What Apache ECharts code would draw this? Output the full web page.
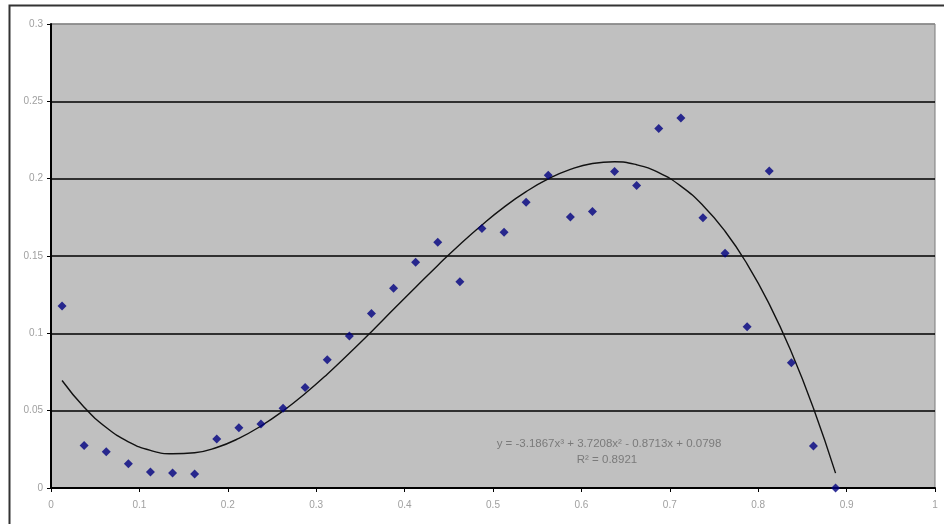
<!DOCTYPE html>
<html>
<head>
<meta charset="utf-8">
<script src="https://cdn.jsdelivr.net/npm/echarts@6/dist/echarts.min.js"></script>
<style>
html,body{margin:0;padding:0;background:#fff;}
#chart{width:944px;height:524px;}
</style>
</head>
<body>
<div id="chart"></div>
<script>
var xValues = [0.0125,0.0375,0.0625,0.0875,0.1125,0.1375,0.1625,0.1875,0.2125,0.2375,0.2625,0.2875,0.3125,0.3375,0.3625,0.3875,0.4125,0.4375,0.4625,0.4875,0.5125,0.5375,0.5625,0.5875,0.6125,0.6375,0.6625,0.6875,0.7125,0.7375,0.7625,0.7875,0.8125,0.8375,0.8625,0.8875];
var yValues = [0.1177,0.0274,0.0235,0.0157,0.0103,0.0097,0.0090,0.0317,0.0390,0.0414,0.0515,0.0649,0.0830,0.0983,0.1129,0.1291,0.1459,0.1589,0.1334,0.1677,0.1653,0.1847,0.2022,0.1752,0.1787,0.2047,0.1956,0.2325,0.2392,0.1748,0.1517,0.1043,0.2050,0.0810,0.0272,0.0000];
var trendValues = [0.0695,0.0522,0.0391,0.0299,0.0243,0.0221,0.0228,0.0262,0.0321,0.0401,0.0498,0.0611,0.0736,0.0871,0.1011,0.1155,0.1298,0.1439,0.1575,0.1701,0.1816,0.1916,0.1998,0.2060,0.2098,0.2109,0.2090,0.2039,0.1952,0.1827,0.1660,0.1448,0.1189,0.0879,0.0516,0.0096];
var xTicks = ['0','0.1','0.2','0.3','0.4','0.5','0.6','0.7','0.8','0.9','1'];
var yTicks = ['0','0.05','0.1','0.15','0.2','0.25','0.3'];
var equationText = 'y = -3.1867x\u00B3 + 3.7208x\u00B2 - 0.8713x + 0.0798';
var r2Text = 'R\u00B2 = 0.8921';

var chart = echarts.init(document.getElementById('chart'), null, {renderer:'canvas'});
var pts = xValues.map(function(x,i){return [x, yValues[i]];});
var trend = xValues.map(function(x,i){return [x, trendValues[i]];});
var font = 'Liberation Sans, Arial, sans-serif';
chart.setOption({
  animation:false,
  backgroundColor:'#ffffff',
  grid:{left:51,right:9,top:24,bottom:36,show:true,backgroundColor:'#c0c0c0',borderColor:'#7a7a7a',borderWidth:1},
  xAxis:{type:'value',min:0,max:1,interval:0.1,
    axisLine:{show:true,lineStyle:{color:'#000',width:2}},
    axisTick:{show:true,length:4,lineStyle:{color:'#000',width:1}},
    splitLine:{show:false},
    axisLabel:{color:'#a0a0a0',fontSize:10,fontFamily:font,margin:12,
      formatter:function(v){var i=Math.round(v*10);return xTicks[i];}}
  },
  yAxis:{type:'value',min:0,max:0.3,interval:0.05,
    axisLine:{show:true,lineStyle:{color:'#000',width:2}},
    axisTick:{show:true,length:4,lineStyle:{color:'#000',width:1}},
    splitLine:{show:true,lineStyle:{color:['#000','#000','#000','#000','#000','#000','#8a8a8a'],width:1.6}},
    axisLabel:{color:'#a0a0a0',fontSize:10,fontFamily:font,margin:8,
      formatter:function(v){var i=Math.round(v*20);return yTicks[i];}}
  },
  series:[
    {type:'line',data:trend,smooth:true,showSymbol:false,symbol:'none',
      lineStyle:{color:'#111',width:1.4},z:3},
    {type:'scatter',data:pts,symbol:'diamond',symbolSize:9,
      itemStyle:{color:'#000080'},z:4}
  ],
  graphic:[
    {type:'rect',left:7,top:3,shape:{width:1000,height:600},
      style:{fill:'none',stroke:'#333',lineWidth:2},silent:true,z:-10},
    {type:'text',x:609,y:444,style:{text:equationText,fill:'#7a7a7a',font:'11.5px '+font,align:'center',verticalAlign:'middle'},z:10},
    {type:'text',x:607,y:460,style:{text:r2Text,fill:'#7a7a7a',font:'11.5px '+font,align:'center',verticalAlign:'middle'},z:10}
  ]
});
</script>
</body>
</html>
